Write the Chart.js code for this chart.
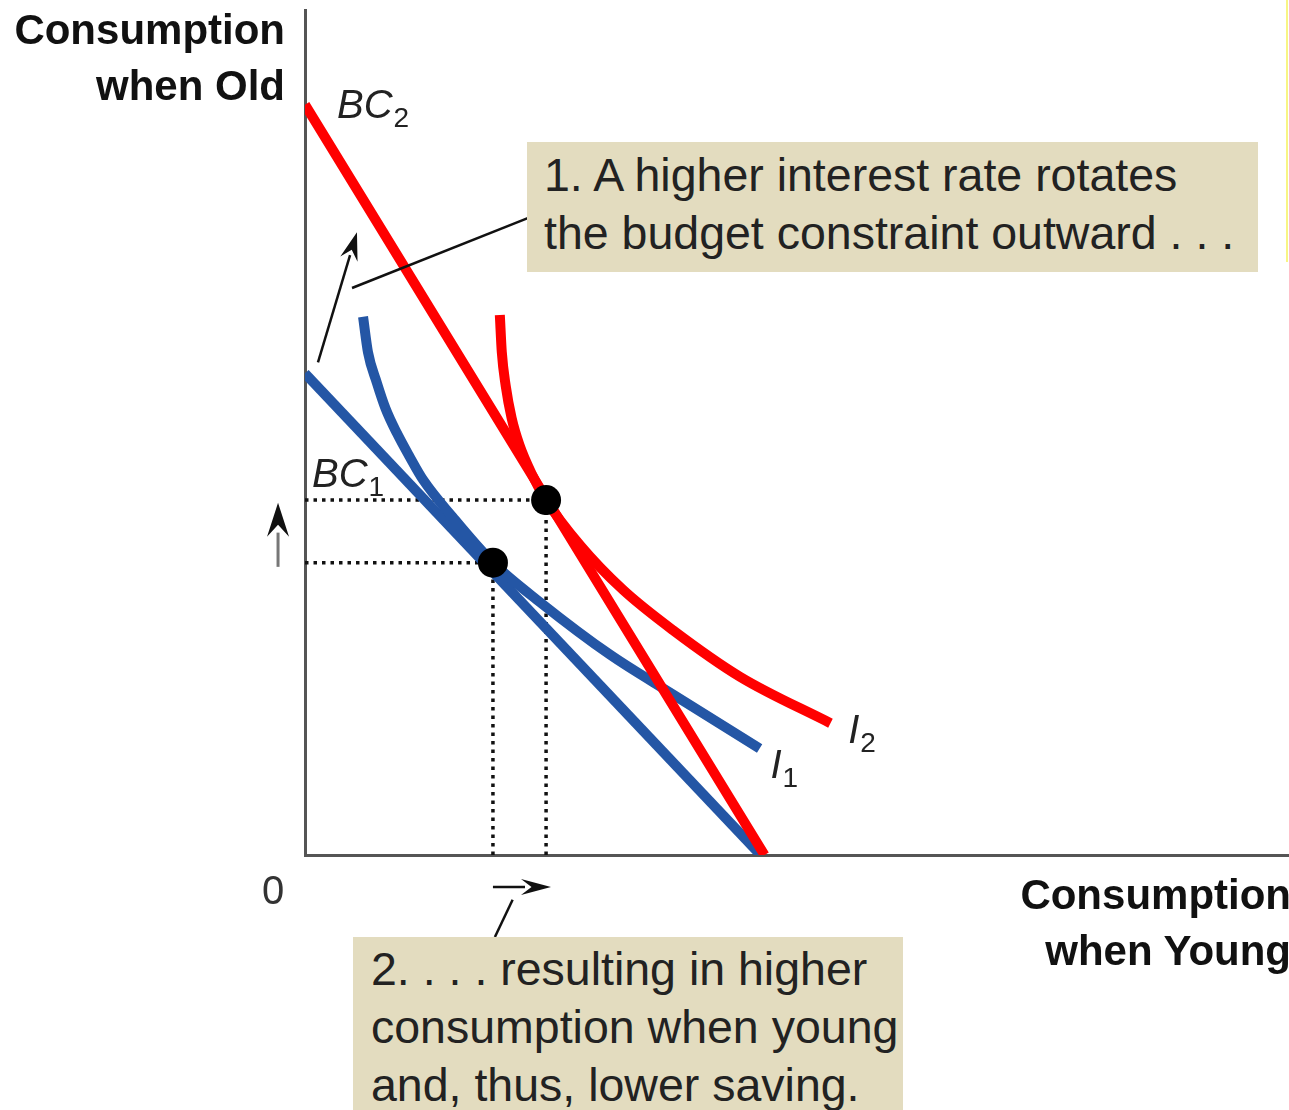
<!DOCTYPE html>
<html>
<head>
<meta charset="utf-8">
<script src="https://cdn.jsdelivr.net/npm/chart.js@4"></script>
<style>
  body { margin: 0; background: #fff; }
  #wrap { position: relative; width: 1289px; height: 1110px; overflow: hidden; font-family: "Liberation Sans", Arial, sans-serif; }
  #chart { position: absolute; left: 0; top: 0; }
  .axis-title { position: absolute; font-weight: bold; font-size: 42px; line-height: 56px; text-align: right; color: #111; white-space: nowrap; }
  .note { position: absolute; box-sizing: border-box; background: #e3dcbf; color: #222; font-size: 46.5px; line-height: 58px; white-space: nowrap; }
  #edge { position: absolute; left: 1286px; top: 0; width: 2px; height: 262px; background: #f8f584; }
</style>
</head>
<body>
<div id="wrap">
  <canvas id="chart" width="1289" height="1110"></canvas>
  <div class="axis-title" style="right: 1004px; top: 2px;">Consumption<br>when Old</div>
  <div class="axis-title" style="right: -2px; top: 867px;">Consumption<br>when Young</div>
  <div class="note" style="left: 527px; top: 142px; width: 731px; height: 130px; padding: 4px 0 0 17px;">1. A higher interest rate rotates<br>the budget constraint outward . . .</div>
  <div class="note" style="left: 353px; top: 937px; width: 550px; height: 200px; padding: 3px 0 0 18px;">2. . . . resulting in higher<br>consumption when young<br>and, thus, lower saving.</div>
  <div id="edge"></div>
</div>
<script>
// budget constraints (consumption young, consumption old)
const bc1X = [0, 46.3];
const bc1Y = [57.0, 0];
const bc2X = [0, 46.7];
const bc2Y = [88.8, 0];

// indifference curves
const i1X = [5.9, 6.4, 7.3, 8.2, 9.35, 10.6, 12.0, 15.0, 19.1, 23.9, 31.0, 37.4, 46.2];
const i1Y = [63.7, 59.5, 55.9, 52.8, 49.9, 47.2, 44.4, 40.0, 34.6, 29.9, 23.7, 19.0, 12.6];
const i2X = [19.8, 20.0, 20.4, 21.0, 21.8, 23.0, 24.5, 28.0, 32.3, 37.4, 44.2, 53.4];
const i2Y = [63.9, 59.5, 55.5, 51.7, 48.5, 45.2, 42.0, 36.6, 31.4, 26.6, 21.1, 15.6];

// optimum points: before and after the rate rise
const optX = [19.1, 24.5];
const optY = [34.6, 42.0];

const RED = '#ff0000';
const BLUE = '#2456a5';

const pts = (xs, ys) => xs.map((v, i) => ({ x: v, y: ys[i] }));

function curve(label, xs, ys, color, order) {
    return {
        label: label,
        data: pts(xs, ys),
        showLine: true,
        borderColor: color,
        borderWidth: 10,
        pointRadius: 0,
        cubicInterpolationMode: 'monotone',
        order: order
    };
}

function dotted(xs, ys) {
    return {
        data: pts(xs, ys),
        showLine: true,
        borderColor: '#111',
        borderWidth: 3.5,
        borderDash: [3.5, 5],
        pointRadius: 0,
        order: 10
    };
}

const datasets = [
    { label: 'optimum', data: pts(optX, optY), pointRadius: 15, pointBackgroundColor: '#000', pointBorderWidth: 0, showLine: false, order: 0 },
    curve('BC2', bc2X, bc2Y, RED, 1),
    curve('I2', i2X, i2Y, RED, 2),
    curve('I1', i1X, i1Y, BLUE, 3),
    curve('BC1', bc1X, bc1Y, BLUE, 4)
];
// guide lines from each optimum to both axes
optX.forEach((ox, i) => {
    datasets.push(dotted([0, ox], [optY[i], optY[i]]));
    datasets.push(dotted([ox, ox], [0, optY[i]]));
});

function drawArrow(ctx, x1, y1, x2, y2, len, half, shaft, width) {
    const a = Math.atan2(y2 - y1, x2 - x1);
    const bx = x2 - len * Math.cos(a), by = y2 - len * Math.sin(a);
    ctx.strokeStyle = shaft;
    ctx.lineWidth = width;
    ctx.beginPath();
    ctx.moveTo(x1, y1);
    ctx.lineTo(bx + 4 * Math.cos(a), by + 4 * Math.sin(a));
    ctx.stroke();
    ctx.fillStyle = '#111';
    ctx.beginPath();
    ctx.moveTo(x2, y2);
    ctx.lineTo(bx - half * Math.sin(a), by + half * Math.cos(a));
    ctx.lineTo(bx + 0.35 * len * Math.cos(a), by + 0.35 * len * Math.sin(a));
    ctx.lineTo(bx + half * Math.sin(a), by - half * Math.cos(a));
    ctx.closePath();
    ctx.fill();
}

function subLabel(ctx, x, y, main, sub) {
    ctx.fillStyle = '#222';
    ctx.textBaseline = 'alphabetic';
    ctx.textAlign = 'left';
    ctx.font = 'italic 40px "Liberation Sans", Arial';
    ctx.fillText(main, x, y);
    const w = ctx.measureText(main).width;
    ctx.font = '28px "Liberation Sans", Arial';
    ctx.fillText(sub, x + w + 1, y + 9);
}

const annotate = {
    id: 'annotate',
    afterDraw(chart) {
        const ctx = chart.ctx;
        const sx = chart.scales.x, sy = chart.scales.y;
        const X = v => sx.getPixelForValue(v);
        const Y = v => sy.getPixelForValue(v);
        ctx.save();
        ctx.lineCap = 'butt';

        // rotation arrow and leader to note 1
        drawArrow(ctx, X(1.32), Y(58.3), X(5.28), Y(73.7), 28, 9, '#111', 2.5);
        ctx.strokeStyle = '#111';
        ctx.lineWidth = 2.5;
        ctx.beginPath();
        ctx.moveTo(X(4.78), Y(67.1));
        ctx.lineTo(X(22.7), Y(75.4));
        ctx.stroke();

        // change in consumption when old / young
        drawArrow(ctx, X(-2.74), Y(34.1), X(-2.74), Y(41.7), 34, 11, '#777', 3);
        drawArrow(ctx, X(19.1), Y(-3.8), X(25.0), Y(-3.8), 30, 8, '#111', 2.5);

        // leader to note 2
        ctx.strokeStyle = '#111';
        ctx.lineWidth = 2.5;
        ctx.beginPath();
        ctx.moveTo(X(21.1), Y(-5.3));
        ctx.lineTo(X(19.3), Y(-9.7));
        ctx.stroke();

        // curve labels
        subLabel(ctx, X(3.25), Y(87.2), 'BC', '2');
        subLabel(ctx, X(0.71), Y(43.6), 'BC', '1');
        subLabel(ctx, X(47.3), Y(9.1), 'I', '1');
        subLabel(ctx, X(55.2), Y(13.3), 'I', '2');

        // origin
        ctx.fillStyle = '#333';
        ctx.font = '40px "Liberation Sans", Arial';
        ctx.textAlign = 'center';
        ctx.textBaseline = 'middle';
        ctx.fillText('0', X(-3.25), Y(-4.5));
        ctx.restore();
    }
};

const axisStyle = {
    type: 'linear',
    min: 0,
    max: 100,
    grid: { display: false, drawTicks: false },
    ticks: { display: false },
    border: { display: true, color: '#555', width: 3 }
};

new Chart(document.getElementById('chart'), {
    type: 'scatter',
    data: { datasets: datasets },
    options: {
        responsive: false,
        animation: false,
        devicePixelRatio: 1,
        layout: { autoPadding: false, padding: { left: 305, top: 10, right: 0, bottom: 255 } },
        plugins: { legend: { display: false }, tooltip: { enabled: false } },
        scales: { x: axisStyle, y: axisStyle }
    },
    plugins: [annotate]
});
</script>
</body>
</html>
